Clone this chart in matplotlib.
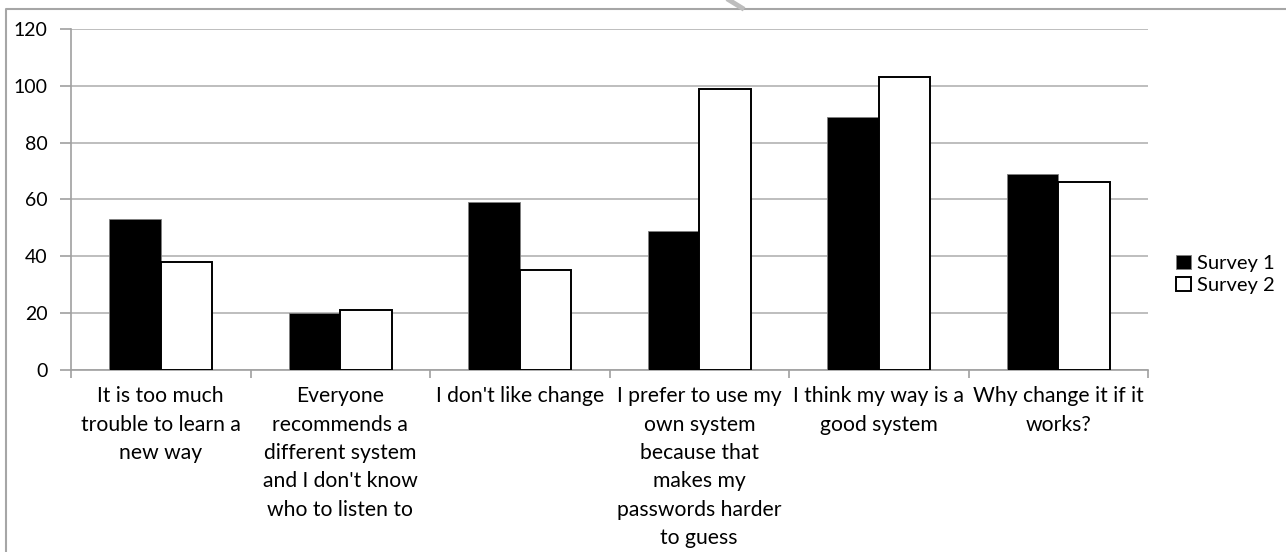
import numpy as np
import matplotlib
matplotlib.use("Agg")
import matplotlib.pyplot as plt
from matplotlib.lines import Line2D

plt.rcParams['font.family'] = ['Lato', 'DejaVu Sans']

# reasons for not changing password habits, counts per survey
categories = [
    "It is too much\ntrouble to learn a\nnew way",
    "Everyone\nrecommends a\ndifferent system\nand I don't know\nwho to listen to",
    "I don't like change",
    "I prefer to use my\nown system\nbecause that\nmakes my\npasswords harder\nto guess",
    "I think my way is a\ngood system",
    "Why change it if it\nworks?",
]
survey1 = [53, 20, 59, 49, 89, 69]
survey2 = [38, 21, 35, 99, 103, 66]
yticks = [0, 20, 40, 60, 80, 100, 120]

W, H = 1286, 552
fig = plt.figure(figsize=(W / 100, H / 100), dpi=100)
ax = fig.add_axes([71 / W, 1 - 369.7 / H, 1077 / W, (369.7 - 29) / H])

x = np.arange(len(categories))
bw = 1 / 3.5  # gap width 150%
ax.bar(x - bw, survey1, width=bw, align='edge', color='black',
       edgecolor='#808080', linewidth=0.6, zorder=3, label='Survey 1')
ax.bar(x, survey2, width=bw, align='edge', color='white',
       edgecolor='black', linewidth=1.4, zorder=3, label='Survey 2')

ax.set_xlim(-0.5, len(categories) - 0.5)
ax.set_ylim(0, 120)
ax.set_yticks(yticks)
ax.yaxis.grid(True, color='#b3b3b3', linewidth=1.2, zorder=0)
ax.set_axisbelow(True)

grey = '#a0a0a0'
for s in ['top', 'right']:
    ax.spines[s].set_visible(False)
for s in ['left', 'bottom']:
    ax.spines[s].set_color(grey)
    ax.spines[s].set_linewidth(1.2)

ax.tick_params(axis='y', length=8, width=1.2, color=grey, pad=9,
               labelsize=14, labelcolor='black')
ax.set_xticks(np.arange(-0.5, len(categories), 1.0))
ax.set_xticklabels([])
ax.tick_params(axis='x', which='major', length=6, width=1.2, color=grey)
ax.set_xticks(x, minor=True)
ax.set_xticklabels(categories, minor=True, fontsize=15.2, linespacing=1.52,
                   va='top')
ax.tick_params(axis='x', which='minor', length=0, pad=12)

leg = ax.legend(loc='center left', bbox_to_anchor=(1.0, 0.28), frameon=False,
                fontsize=14.5, handlelength=0.72, handleheight=0.72,
                handletextpad=0.3, labelspacing=0.22, borderaxespad=1.0)

# chart area frame, clipped by the image edge
fig.add_artist(Line2D([6 / W, 6 / W, 1.0], [0.0, 1 - 9 / H, 1 - 9 / H],
                      transform=fig.transFigure, color='#a6a6a6', lw=1.5))
fig.add_artist(Line2D([729 / W, 742 / W], [1.0, 1 - 8 / H],
                      transform=fig.transFigure, color='#bdbdbd', lw=3.5))

fig.savefig('out.png', dpi=100)
